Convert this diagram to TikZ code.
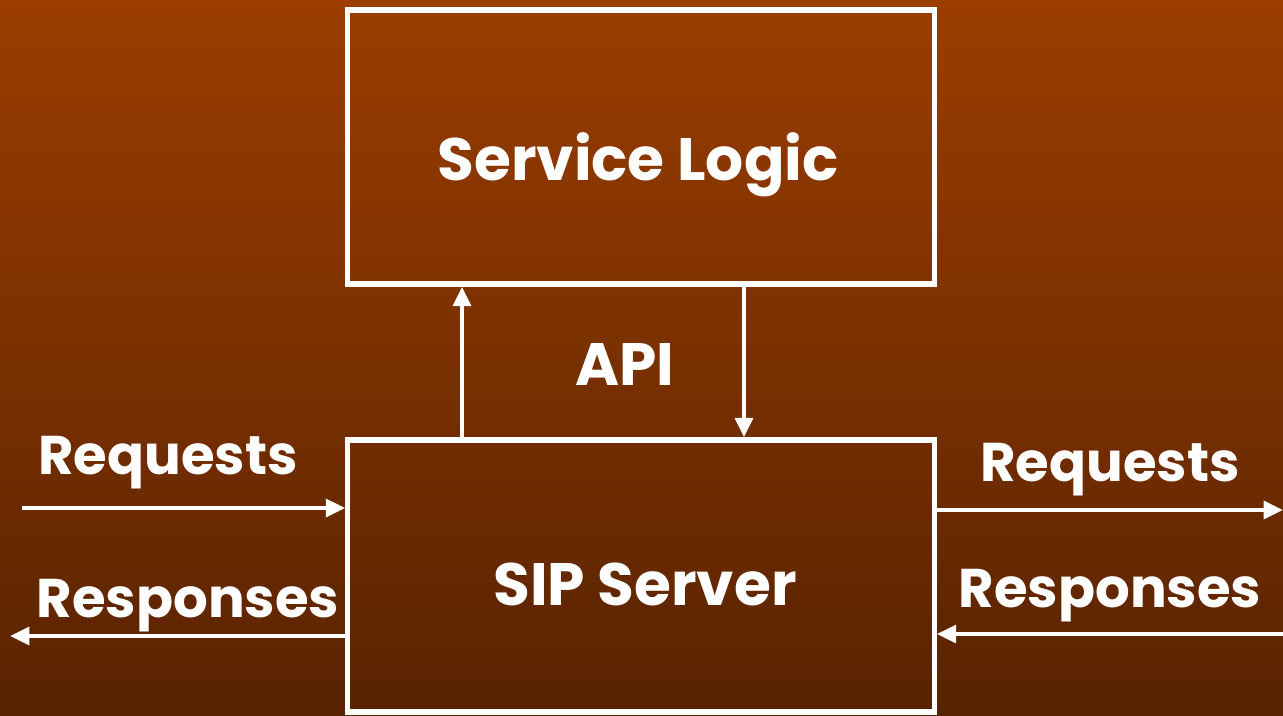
\documentclass[tikz,border=0pt]{standalone}
\usepackage{fontspec}
\setmainfont{Poppins}[UprightFont=* Bold]
\usetikzlibrary{arrows.meta}
\definecolor{bgtop}{RGB}{155,61,0}
\definecolor{bgbot}{RGB}{88,35,0}
\tikzset{
  box/.style={draw=white, line width=1.5pt, inner sep=0pt},
  flow/.style={draw=white, line width=1.2pt, -{Triangle[length=5.5pt,width=5pt]}},
  lbl/.style={text=white, font=\fontsize{17}{20}\selectfont, inner sep=0pt, anchor=base},
  side/.style={lbl, font=\fontsize{15.5}{18}\selectfont}
}
\begin{document}
\begin{tikzpicture}[x=0.01cm,y=-0.01cm]
  % background gradient
  \shade[top color=bgtop, bottom color=bgbot] (0,0) rectangle (1283,715);
  \useasboundingbox (0,0) rectangle (1283,715);

  % boxes
  \node[box, minimum width=5.86cm, minimum height=2.74cm] (logic) at (641,147) {};
  \node[box, minimum width=5.86cm, minimum height=2.72cm] (sip) at (641,576) {};
  \node[lbl] (tlogic) at (638,180) {Service Logic};
  \node[lbl] (tsip) at (645,605) {SIP Server};
  \node[lbl] (api) at (625,385) {API};

  % API arrows between the boxes
  \draw[flow] (sip.north -| 462,0) -- (logic.south -| 462,0);
  \draw[flow] (logic.south -| 744,0) -- (sip.north -| 744,0);

  % left side
  \coordinate (lin) at (22,508);
  \coordinate (lout) at (10,636);
  \draw[flow] (lin) -- (lin -| sip.west);
  \draw[flow] (lout -| sip.west) -- (lout);
  \node[side] (lreq) at (168,474) {Requests};
  \node[side] (lres) at (188,617) {Responses};

  % right side
  \coordinate (rout) at (1283,510);
  \coordinate (rin) at (1283,634);
  \draw[flow] (rout -| sip.east) -- (rout);
  \draw[flow] (rin) -- (rin -| sip.east);
  \node[side] (rreq) at (1110,481) {Requests};
  \node[side] (rres) at (1110,607) {Responses};
\end{tikzpicture}
\end{document}
